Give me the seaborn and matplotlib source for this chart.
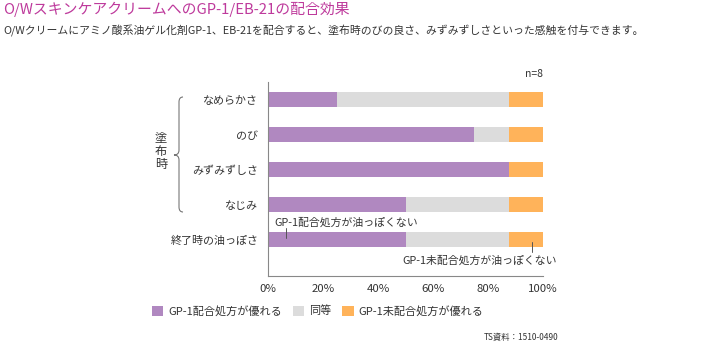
import pandas as pd
import seaborn as sns
import matplotlib.pyplot as plt
from matplotlib.patches import Patch, PathPatch
from matplotlib.path import Path

# data (n=8 panel, % of panelists)
items = ['なめらかさ', 'のび', 'みずみずしさ', 'なじみ', '終了時の油っぽさ']
better = [25, 75, 87.5, 50, 50]
same = [62.5, 12.5, 0, 37.5, 37.5]
worse = [12.5, 12.5, 12.5, 12.5, 12.5]
legend_labels = ['GP-1配合処方が優れる', '同等', 'GP-1未配合処方が優れる']
xticks = [0, 20, 40, 60, 80, 100]

PURPLE = '#B088C0'
GRAY = '#DCDCDC'
ORANGE = '#FFB35A'
TXT = '#333333'


def main() -> None:
    sns.set_theme(style='white')
    plt.rcParams['font.family'] = ['Noto Sans CJK JP', 'DejaVu Sans']

    df = pd.DataFrame({'item': items, 'better': better, 'same': same, 'worse': worse})
    df['lvl2'] = df['better'] + df['same']
    df['lvl3'] = df['lvl2'] + df['worse']

    W, H = 710, 350
    fig = plt.figure(figsize=(7.1, 3.5), dpi=100)
    ax = fig.add_axes([268 / W, 1 - 276 / H, 275 / W, 194 / H])

    # stacked bars by overlaying cumulative totals
    for col, c in [('lvl3', ORANGE), ('lvl2', GRAY), ('better', PURPLE)]:
        sns.barplot(data=df, x=col, y='item', order=items, color=c, saturation=1,
                    width=0.43, linewidth=0, ax=ax)

    ax.set_xlim(0, 100)
    ax.set_ylim(5.03, -0.51)
    ax.set_xticks(xticks)
    ax.set_xticklabels([f'{t}%' for t in xticks], fontsize=8.2, color=TXT)
    ax.set_xlabel('')
    ax.set_ylabel('')
    ax.tick_params(axis='x', direction='in', length=4, color='#888888', pad=6)
    ax.tick_params(axis='y', length=0, pad=7, labelsize=7.9, labelcolor=TXT)
    for s in ['top', 'right']:
        ax.spines[s].set_visible(False)
    for s in ['left', 'bottom']:
        ax.spines[s].set_color('#888888')
        ax.spines[s].set_linewidth(0.8)

    # annotations for the last row
    ax.text(2.2, 3.51, 'GP-1配合処方が油っぽくない', fontsize=7.8, color=TXT,
            ha='left', va='center')
    ax.plot([6.5, 6.5], [3.66, 3.94], color='#555555', lw=0.7)
    ax.text(77.1, 4.6, 'GP-1未配合処方が油っぽくない', fontsize=7.8, color=TXT,
            ha='center', va='center', clip_on=False)
    ax.plot([96, 96], [4.06, 4.34], color='#555555', lw=0.7)

    # titles
    fig.text(3 / W, 1 - 9 / H, 'O/WスキンケアクリームへのGP-1/EB-21の配合効果',
             fontsize=10.7, color='#BE3A9C', ha='left', va='center')
    fig.text(3 / W, 1 - 31 / H,
             'O/Wクリームにアミノ酸系油ゲル化剤GP-1、EB-21を配合すると、塗布時のびの良さ、みずみずしさといった感触を付与できます。',
             fontsize=7.8, color=TXT, ha='left', va='center')
    fig.text(543 / W, 1 - 74 / H, 'n=8', fontsize=7.5, color=TXT, ha='right', va='center')
    fig.text(558 / W, 1 - 337 / H, 'TS資料：1510-0490', fontsize=6, color=TXT,
             ha='right', va='center')

    # brace + group label
    def px(x, y):
        return (x / W, 1 - y / H)
    verts = [px(183, 97), px(179, 97), px(179, 102), px(179, 150), px(179, 155),
             px(174, 155), px(179, 155), px(179, 160), px(179, 207), px(179, 212),
             px(183, 212)]
    codes = [Path.MOVETO, Path.CURVE3, Path.CURVE3, Path.LINETO, Path.CURVE3,
             Path.CURVE3, Path.CURVE3, Path.CURVE3, Path.LINETO, Path.CURVE3, Path.CURVE3]
    fig.add_artist(PathPatch(Path(verts, codes), transform=fig.transFigure,
                             fill=False, edgecolor='#777777', lw=0.8))
    fig.text(161 / W, 1 - 151 / H, '塗\n布\n時', fontsize=8.8, color=TXT,
             ha='center', va='center', linespacing=1.0)

    # legend
    handles = [Patch(facecolor=c, edgecolor='none') for c in [PURPLE, GRAY, ORANGE]]
    fig.legend(handles, legend_labels, loc='center left',
               bbox_to_anchor=(142 / W, 1 - 311 / H), ncol=3, frameon=False,
               fontsize=8, handlelength=1.0, handleheight=1.0, handletextpad=0.45,
               columnspacing=1.0, labelcolor=TXT)

    fig.savefig('out.png', dpi=100)


if __name__ == '__main__':
    main()
